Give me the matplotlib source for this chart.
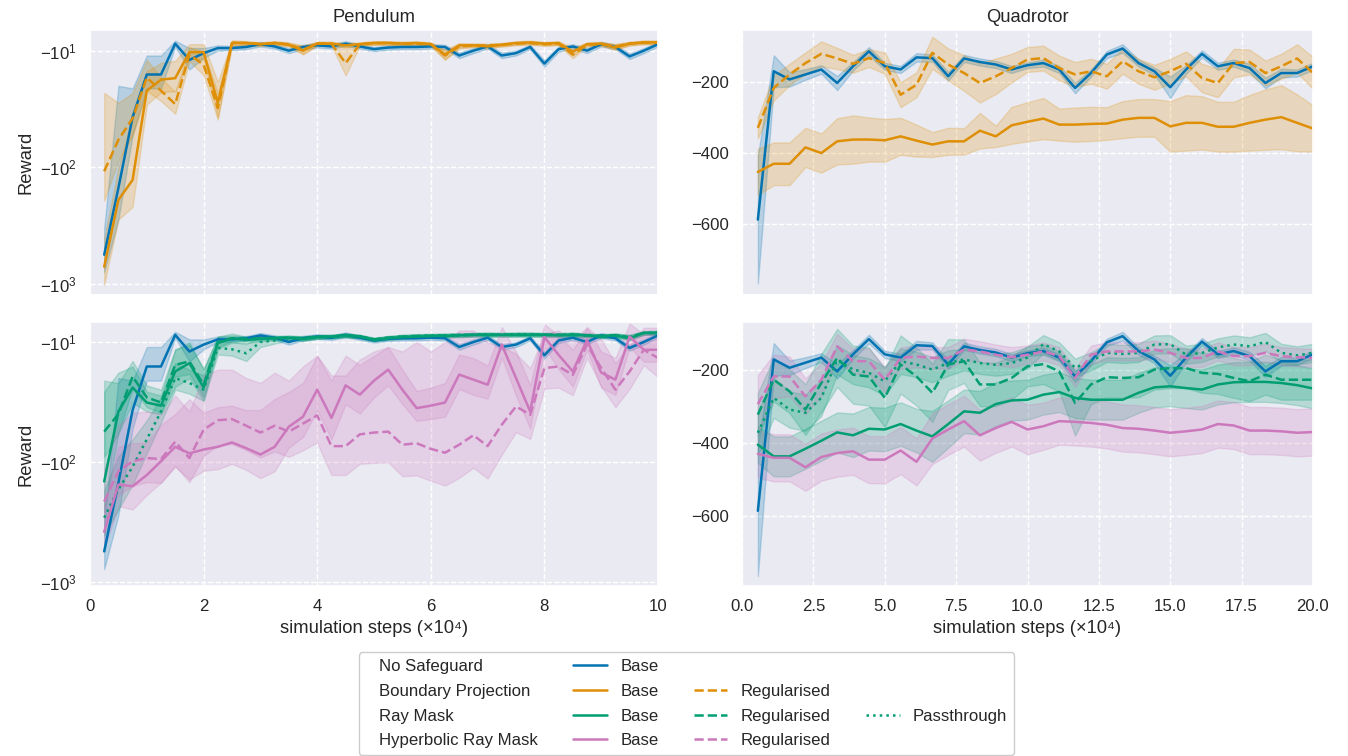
"""Learning curves for the safeguard comparison (Pendulum / Quadrotor)."""

import numpy as np
import matplotlib
matplotlib.use("Agg")
import matplotlib.pyplot as plt
import seaborn as sns
from matplotlib.lines import Line2D

sns.set_theme(style="darkgrid", palette="colorblind", font_scale=1.1)
plt.rcParams["font.family"] = ["Liberation Sans", "DejaVu Sans"]

_pal = sns.color_palette("colorblind")
BLUE, ORANGE, GREEN, PINK = _pal[0], _pal[1], _pal[2], _pal[4]

# ---------------------------------------------------------------- Pendulum
# evaluation every 2.5k steps, x in units of 1e4
pend_steps = np.arange(1, 41) * 0.25

pend_ns = [-560, -150, -37, -16, -16, -8.7, -12, -10.5, -9.5, -9.5, -9.3, -8.8, -9.2, -10.0,
           -9.3, -9.0, -9.2, -8.7, -9.2, -9.7, -9.4, -9.3, -9.3, -9.2, -9.3, -11.0, -10.0, -9.2,
           -11.0, -10.5, -9.3, -12.9, -9.7, -9.2, -10.0, -8.8, -9.3, -11.2, -10.0, -8.8]
pend_ns_err = [230, 130, 16, 5, 5, 0.5, 2.5, 1.0, 0.5, 0.4, 0.4, 0.4, 0.4, 0.5, 0.4, 0.4, 0.4,
               0.4, 0.4, 0.4, 0.4, 0.4, 0.4, 0.4, 0.4, 0.6, 0.5, 0.4, 0.6, 0.5, 0.4, 0.8, 0.5,
               0.4, 0.5, 0.4, 0.4, 0.6, 0.5, 0.4]

pend_bp = [-710, -190, -128, -22, -17.7, -17.2, -10.3, -10.3, -28, -8.6, -8.6, -8.8, -8.6, -8.9,
           -10.0, -8.7, -8.7, -9.0, -8.8, -8.6, -8.6, -8.7, -8.6, -8.8, -10.8, -9.0, -9.0, -9.2,
           -8.9, -8.6, -8.5, -8.7, -8.6, -10.2, -8.8, -8.7, -9.4, -8.7, -8.5, -8.5]
pend_bp_err = [300, 90, 90, 7, 5, 5, 1.5, 1.5, 9.5, 0.4, 0.3, 0.3, 0.3, 0.3, 0.8, 0.3, 0.3, 0.4,
               0.3, 0.3, 0.3, 0.3, 0.3, 0.3, 1.0, 0.4, 0.3, 0.4, 0.3, 0.3, 0.3, 0.3, 0.3, 0.8,
               0.3, 0.3, 0.5, 0.3, 0.3, 0.3]

pend_bp_reg = [-108, -58, -38, -17, -22, -28.7, -10.8, -13.2, -31, -8.6, -8.6, -8.8, -8.6, -8.8,
               -9.8, -8.7, -8.7, -12.8, -8.8, -8.6, -8.6, -8.7, -8.7, -8.8, -11.0, -9.2, -9.0,
               -9.0, -8.9, -8.7, -8.6, -8.8, -8.7, -10.8, -8.9, -8.8, -9.2, -8.7, -8.5, -8.5]
pend_bp_reg_err = [85, 30, 15, 5, 5, 6, 1.5, 3, 8, 0.4, 0.3, 0.3, 0.3, 0.3, 0.8, 0.3, 0.3, 3.5,
                   0.3, 0.3, 0.3, 0.3, 0.3, 0.3, 1.0, 0.4, 0.3, 0.3, 0.3, 0.3, 0.3, 0.3, 0.3,
                   0.8, 0.3, 0.3, 0.5, 0.3, 0.3, 0.3]

pend_rm = [-146, -38, -24, -32, -34, -17.6, -15, -24, -10.2, -9.3, -9.6, -9.4, -9.3, -9.2, -9.4,
           -9.1, -9.0, -8.8, -9.0, -9.6, -9.3, -9.1, -9.0, -8.9, -8.9, -8.8, -8.7, -8.7, -8.7,
           -8.7, -8.7, -8.7, -8.8, -8.7, -8.8, -9.0, -8.8, -9.3, -8.4, -8.4]
pend_rm_err = [120, 20, 8, 6, 6, 6, 5, 7, 1.2, 0.8, 0.6, 0.5, 0.4, 0.4, 0.4, 0.3, 0.3, 0.3, 0.3,
               0.3, 0.3, 0.3, 0.3, 0.3, 0.3, 0.3, 0.3, 0.3, 0.3, 0.3, 0.3, 0.3, 0.3, 0.3, 0.3,
               0.3, 0.3, 0.4, 0.3, 0.3]

pend_rm_reg = [-56, -40, -19.4, -29, -32, -15.5, -14.5, -22.7, -10.0, -9.3, -9.4, -9.3, -9.2,
               -9.2, -9.3, -9.0, -9.0, -8.8, -9.0, -9.5, -9.2, -9.0, -8.9, -8.9, -8.8, -8.8,
               -8.7, -8.7, -8.7, -8.7, -8.7, -8.7, -8.7, -8.7, -8.8, -8.9, -8.8, -9.1, -8.4, -8.4]
pend_rm_reg_err = [35, 18, 5, 6, 7, 4, 4, 6, 1.0, 0.5, 0.4, 0.3, 0.3, 0.3, 0.3, 0.3, 0.3, 0.3,
                   0.3, 0.3, 0.3, 0.3, 0.3, 0.3, 0.3, 0.3, 0.3, 0.3, 0.3, 0.3, 0.3, 0.3, 0.3,
                   0.3, 0.3, 0.3, 0.3, 0.4, 0.3, 0.3]

pend_rm_pass = [-293, -170, -110, -65, -38, -20, -22, -25, -11.2, -11.5, -12.4, -10.0, -9.7,
                -9.3, -9.3, -9.1, -9.0, -8.8, -9.0, -9.5, -9.2, -9.0, -8.9, -8.8, -8.8, -8.7,
                -8.7, -8.6, -8.7, -8.6, -8.6, -8.7, -8.7, -8.6, -8.8, -8.9, -8.8, -9.1, -8.4, -8.3]
pend_rm_pass_err = [120, 80, 45, 20, 9, 5, 5, 6, 1.5, 1.5, 2, 1, 0.6, 0.4, 0.4, 0.3, 0.3, 0.3,
                    0.3, 0.3, 0.3, 0.3, 0.3, 0.3, 0.3, 0.3, 0.3, 0.3, 0.3, 0.3, 0.3, 0.3, 0.3,
                    0.3, 0.3, 0.3, 0.3, 0.4, 0.3, 0.3]

pend_hrm = [-384, -155, -160, -129, -99, -75, -85, -79, -75, -69, -77, -87, -75, -51, -42, -25,
            -43, -23, -27.5, -21, -17, -25, -35.6, -34, -32, -18.7, -20.6, -22.7, -10.5, -20,
            -38, -9.1, -12.8, -17.6, -9.6, -18, -20.6, -9.0, -11.6, -11.6]
pend_hrm_err = [150, 80, 90, 60, 50, 35, 55, 40, 40, 35, 40, 50, 45, 25, 20, 12, 22, 10, 12, 8,
                6, 8, 10, 10, 10, 6, 7, 7, 3, 8, 15, 2, 4, 6, 2, 6, 7, 2, 3, 3]

pend_hrm_reg = [-215, -120, -99, -93, -95, -68, -93, -54, -45, -44, -50, -57, -50, -56, -48, -41,
                -74, -74, -59, -57, -56, -72, -70, -78, -84, -72, -60, -74, -49, -34.5, -40.5,
                -16.5, -16, -18.8, -10.5, -16.5, -25, -17.6, -11.6, -13.6]
pend_hrm_reg_err = [100, 70, 60, 55, 55, 40, 55, 35, 28, 27, 30, 35, 32, 35, 32, 28, 55, 55, 45,
                    45, 45, 60, 60, 66, 74, 64, 52, 64, 38, 22, 24, 8, 8, 9, 3, 7, 10, 7, 4, 6]

# --------------------------------------------------------------- Quadrotor
quad_steps = np.linspace(20 / 36, 20, 36)

quad_ns = [-587, -170, -193, -179, -165, -203, -156, -114, -156, -165, -131, -133, -184, -134,
           -144, -151, -165, -153, -147, -165, -217, -175, -123, -106, -147, -170, -215, -165,
           -121, -156, -147, -161, -203, -175, -175, -156]
quad_ns_err = [180, 45, 20, 15, 12, 20, 12, 12, 10, 10, 12, 10, 12, 10, 10, 10, 10, 8, 10, 10,
               15, 10, 10, 12, 10, 10, 30, 12, 10, 10, 10, 12, 15, 12, 10, 10]

quad_bp = [-453, -430, -430, -384, -400, -367, -362, -362, -364, -353, -365, -376, -367, -367,
           -337, -353, -322, -312, -303, -320, -320, -318, -317, -306, -301, -301, -325, -315,
           -315, -326, -326, -315, -306, -299, -315, -331]
quad_bp_err = [65, 60, 60, 55, 55, 65, 68, 62, 60, 52, 45, 35, 38, 37, 50, 30, 52, 55, 58, 45,
               48, 48, 46, 52, 53, 53, 71, 78, 75, 70, 70, 78, 85, 90, 80, 65]

quad_bp_reg = [-329, -217, -179, -147, -121, -134, -149, -133, -147, -236, -208, -118, -151,
               -175, -203, -184, -161, -137, -133, -161, -179, -170, -184, -142, -170, -187,
               -170, -149, -189, -203, -147, -144, -175, -156, -134, -175]
quad_bp_reg_err = [30, 35, 30, 30, 35, 30, 25, 25, 30, 35, 35, 45, 45, 50, 55, 50, 40, 35, 35,
                   35, 35, 35, 35, 35, 35, 35, 35, 35, 40, 40, 40, 35, 35, 35, 40, 45]

quad_rm = [-405, -437, -437, -416, -394, -371, -379, -361, -363, -348, -366, -382, -348, -313,
           -317, -293, -283, -281, -267, -260, -276, -281, -281, -281, -262, -247, -244, -249,
           -253, -239, -233, -232, -232, -235, -241, -250]
quad_rm_err = [50, 55, 55, 55, 55, 55, 60, 60, 60, 60, 60, 70, 65, 60, 60, 60, 55, 55, 55, 55,
               55, 55, 55, 55, 55, 55, 55, 55, 55, 55, 55, 55, 55, 55, 55, 55]

quad_rm_reg = [-322, -226, -258, -308, -235, -166, -212, -217, -276, -184, -217, -262, -184,
               -175, -239, -239, -221, -189, -183, -203, -290, -239, -219, -221, -219, -198,
               -194, -194, -207, -210, -221, -230, -212, -226, -226, -226]
quad_rm_reg_err = [60, 60, 60, 70, 80, 80, 80, 80, 80, 80, 80, 80, 70, 60, 60, 60, 60, 55, 55,
                   55, 90, 55, 55, 55, 55, 55, 55, 55, 55, 55, 55, 55, 55, 55, 55, 55]

quad_rm_pass = [-372, -276, -308, -317, -276, -171, -198, -207, -230, -175, -184, -198, -180,
                -170, -180, -185, -180, -165, -128, -148, -193, -175, -152, -155, -152, -129,
                -128, -157, -152, -137, -129, -134, -122, -152, -159, -152]
quad_rm_pass_err = [60, 55, 50, 50, 50, 40, 40, 40, 40, 35, 35, 35, 35, 30, 30, 30, 30, 30, 25,
                    25, 25, 25, 25, 25, 25, 25, 25, 25, 25, 25, 25, 25, 25, 25, 25, 25]

quad_hrm = [-430, -441, -441, -467, -439, -428, -423, -446, -446, -421, -452, -388, -363, -340,
            -379, -359, -342, -363, -354, -340, -342, -345, -350, -359, -361, -366, -372, -368,
            -363, -348, -352, -366, -366, -368, -372, -370]
quad_hrm_err = [65, 65, 65, 65, 65, 65, 65, 65, 65, 65, 65, 70, 70, 70, 70, 68, 68, 68, 65, 65,
                65, 65, 65, 65, 65, 65, 65, 65, 65, 65, 65, 65, 65, 65, 65, 65]

quad_hrm_reg = [-293, -217, -217, -272, -226, -134, -175, -175, -226, -166, -162, -166, -166,
                -143, -148, -157, -164, -157, -148, -161, -221, -157, -148, -148, -148, -143,
                -152, -166, -166, -148, -161, -161, -152, -161, -164, -166]
quad_hrm_reg_err = [80, 60, 55, 50, 45, 35, 35, 35, 35, 30, 30, 30, 30, 30, 28, 28, 28, 25, 25,
                    25, 25, 25, 25, 25, 25, 25, 25, 25, 25, 25, 25, 25, 25, 25, 25, 25]


def curve(ax, x, mean, err, color, ls="-"):
    mean = np.asarray(mean, dtype=float)
    err = np.asarray(err, dtype=float)
    ax.fill_between(x, mean - err, mean + err, color=color, alpha=0.22)
    ax.plot(x, mean, color=color, ls=ls, lw=1.8)


fig = plt.figure(figsize=(13.48, 7.56), dpi=100)
W, H = 1348, 756
ax_pt = fig.add_axes([90 / W, 1 - 295 / H, 568 / W, 265 / H])
ax_qt = fig.add_axes([742 / W, 1 - 295 / H, 571 / W, 265 / H])
ax_pb = fig.add_axes([90 / W, 1 - 586 / H, 568 / W, 264 / H])
ax_qb = fig.add_axes([742 / W, 1 - 586 / H, 571 / W, 264 / H])

# top row: no safeguard vs boundary projection
curve(ax_pt, pend_steps, pend_ns, pend_ns_err, BLUE)
curve(ax_pt, pend_steps, pend_bp, pend_bp_err, ORANGE)
curve(ax_pt, pend_steps, pend_bp_reg, pend_bp_reg_err, ORANGE, "--")

curve(ax_qt, quad_steps, quad_ns, quad_ns_err, BLUE)
curve(ax_qt, quad_steps, quad_bp, quad_bp_err, ORANGE)
curve(ax_qt, quad_steps, quad_bp_reg, quad_bp_reg_err, ORANGE, "--")

# bottom row: no safeguard vs ray masks
curve(ax_pb, pend_steps, pend_ns, pend_ns_err, BLUE)
curve(ax_pb, pend_steps, pend_rm, pend_rm_err, GREEN)
curve(ax_pb, pend_steps, pend_rm_reg, pend_rm_reg_err, GREEN, "--")
curve(ax_pb, pend_steps, pend_rm_pass, pend_rm_pass_err, GREEN, ":")
curve(ax_pb, pend_steps, pend_hrm, pend_hrm_err, PINK)
curve(ax_pb, pend_steps, pend_hrm_reg, pend_hrm_reg_err, PINK, "--")

curve(ax_qb, quad_steps, quad_ns, quad_ns_err, BLUE)
curve(ax_qb, quad_steps, quad_rm, quad_rm_err, GREEN)
curve(ax_qb, quad_steps, quad_rm_reg, quad_rm_reg_err, GREEN, "--")
curve(ax_qb, quad_steps, quad_rm_pass, quad_rm_pass_err, GREEN, ":")
curve(ax_qb, quad_steps, quad_hrm, quad_hrm_err, PINK)
curve(ax_qb, quad_steps, quad_hrm_reg, quad_hrm_reg_err, PINK, "--")

for ax in (ax_pt, ax_pb):
    ax.set_yscale("symlog")
    ax.set_xlim(0, 10)
    ax.set_ylabel("Reward")
ax_pt.set_ylim(-1240, -6.65)
ax_pb.set_ylim(-1090, -6.8)

for ax in (ax_qt, ax_qb):
    ax.set_xlim(0, 20)
ax_qt.set_ylim(-799, -54)
ax_qb.set_ylim(-794, -67)

for ax in (ax_pt, ax_qt):
    ax.tick_params(labelbottom=False)
for ax in (ax_pb, ax_qb):
    ax.set_xlabel("simulation steps (×10⁴)")

ax_pt.set_title("Pendulum")
ax_qt.set_title("Quadrotor")

for ax in (ax_pt, ax_qt, ax_pb, ax_qb):
    ax.grid(True, linestyle="--", linewidth=1.0, color="white")

# grouped legend: row label, then the variants of that safeguard
blank = Line2D([], [], linestyle="none")
handles = [
    blank, blank, blank, blank,
    Line2D([], [], color=BLUE, lw=1.8), Line2D([], [], color=ORANGE, lw=1.8),
    Line2D([], [], color=GREEN, lw=1.8), Line2D([], [], color=PINK, lw=1.8),
    blank, Line2D([], [], color=ORANGE, lw=1.8, ls="--"),
    Line2D([], [], color=GREEN, lw=1.8, ls="--"), Line2D([], [], color=PINK, lw=1.8, ls="--"),
    blank, blank, Line2D([], [], color=GREEN, lw=1.8, ls=":"), blank,
]
labels = [
    "No Safeguard", "Boundary Projection", "Ray Mask", "Hyperbolic Ray Mask",
    "Base", "Base", "Base", "Base",
    "", "Regularised", "Regularised", "Regularised",
    "", "", "Passthrough", "",
]
leg = fig.legend(handles, labels, ncol=4, loc="upper center",
                 bbox_to_anchor=(686.5 / W, 1 - 644 / H), frameon=True,
                 facecolor="white", edgecolor="0.8", framealpha=1,
                 labelspacing=0.58, columnspacing=2.1)
# the first column holds only group names, so drop its handle slot
for row in leg._legend_handle_box.get_children()[0].get_children():
    row.get_children()[0].width = 0

fig.savefig("out.png", dpi=100)
